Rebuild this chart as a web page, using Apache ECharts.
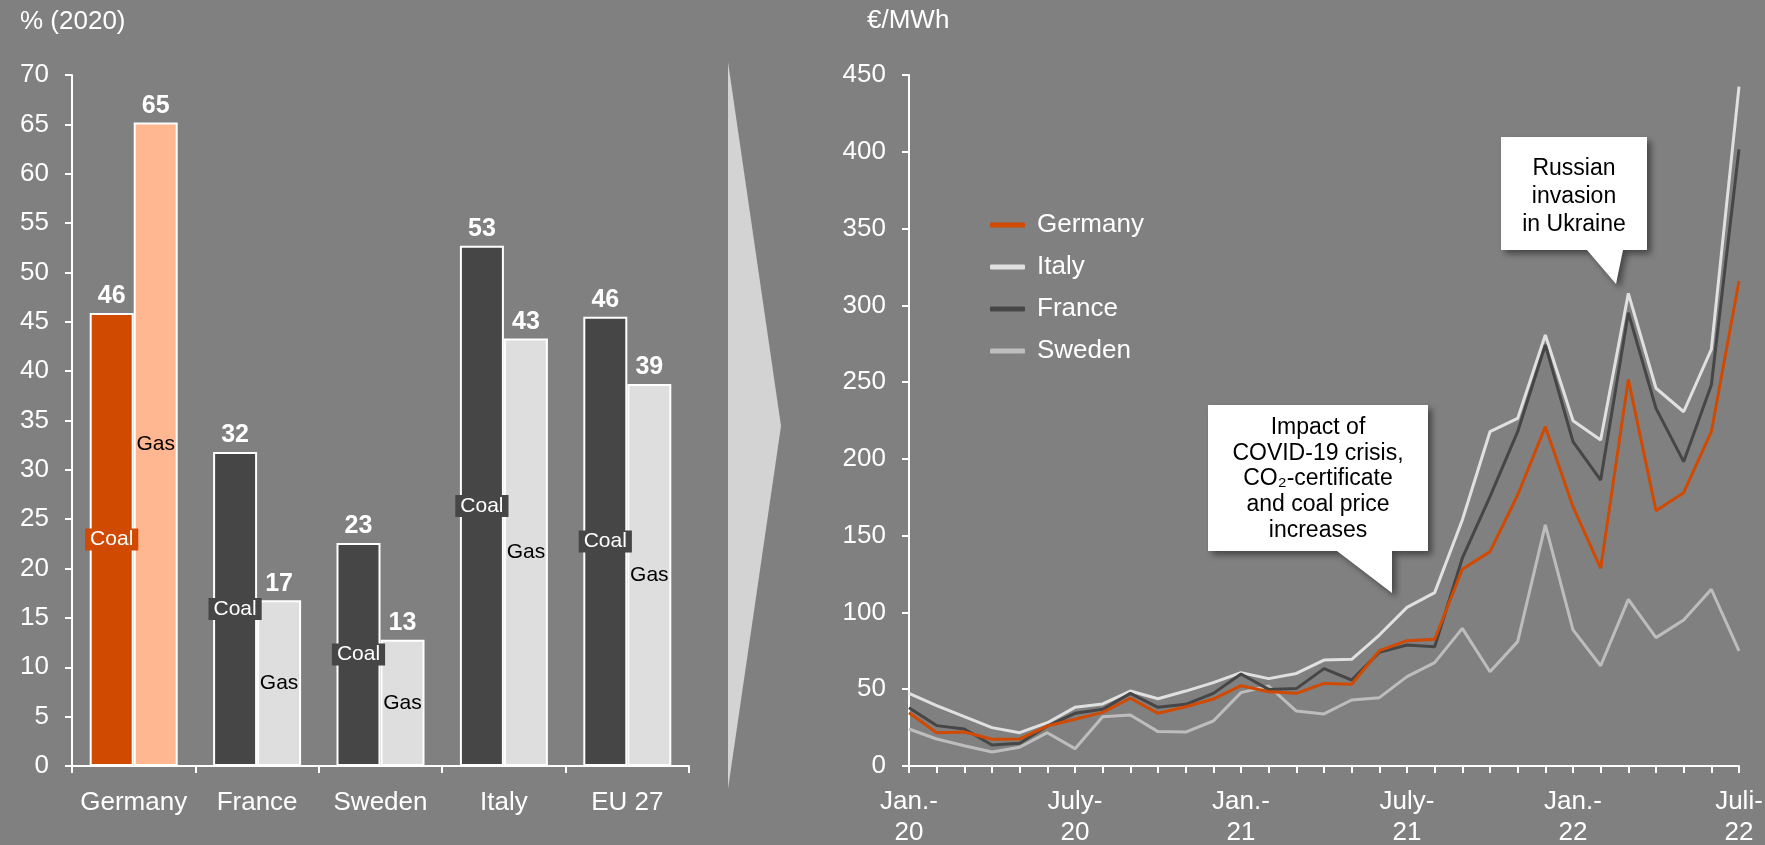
<!DOCTYPE html>
<html><head><meta charset="utf-8">
<script src="https://cdn.jsdelivr.net/npm/echarts@6/dist/echarts.min.js"></script>
<style>html,body{margin:0;padding:0;background:#808080;}#c{width:1765px;height:845px;}</style>
</head><body><div id="c"></div>
<script>
// ---- data ----
const countries = ['Germany', 'France', 'Sweden', 'Italy', 'EU 27'];
const coalShare = [45.9, 31.8, 22.6, 52.7, 45.5];
const gasShare  = [65.2, 16.8, 12.8, 43.3, 38.7];

const months = [
  'Jan.-\n20','Feb.-\n20','Mar.-\n20','Apr.-\n20','May-\n20','June-\n20',
  'July-\n20','Aug.-\n20','Sep.-\n20','Oct.-\n20','Nov.-\n20','Dec.-\n20',
  'Jan.-\n21','Feb.-\n21','Mar.-\n21','Apr.-\n21','May-\n21','June-\n21',
  'July-\n21','Aug.-\n21','Sep.-\n21','Oct.-\n21','Nov.-\n21','Dec.-\n21',
  'Jan.-\n22','Feb.-\n22','Mar.-\n22','Apr.-\n22','May-\n22','June-\n22',
  'Juli-\n22'
];
const germany = [34.7,21.7,22.1,17.4,17.6,26,30.4,34.9,44.1,34.3,38.6,43.6,52.3,48.4,47.3,53.8,53.2,75.1,81.6,82.5,128.1,139.6,176.5,221,168.9,128.7,251.8,166.3,178,217.7,315.8];
const italy   = [47.3,39.3,32.1,25,21.7,28.2,38.2,40.4,48.8,43.8,48.8,54.3,60.8,56.9,60.3,69,69.5,85.3,103.3,112.9,160.2,217.7,226.4,280.7,224.9,212.3,307.8,246,230.7,271.3,442.4];
const france  = [38,26.3,24.1,13.7,14.8,26,34.3,36.9,47.3,38.2,40.2,47.3,59.9,49.9,50.4,63.4,56,74,78.8,77.7,135.3,175.4,217.7,274.2,211.2,186.2,295.2,232.9,198.2,248.1,401.6];
const sweden  = [24.1,17.6,13.2,9.1,12.2,21.7,11.3,32.1,33.2,22.4,22.1,29.3,47.8,52.1,35.8,33.9,43,44.5,58.2,67.3,89.6,61.4,81,157,88.6,65.3,108.5,83.6,95.1,115.1,74.9];

// ---- styles ----
const FONT = "'Liberation Sans', Arial, sans-serif";
const ORANGE = '#D04A02', PEACH = '#FFB791', DARK = '#464646', LIGHT = '#DEDEDE';
const C_IT = '#E0E0E0', C_FR = '#464646', C_SE = '#BDBDBD';

const chart = echarts.init(document.getElementById('c'), null, {renderer: 'canvas'});

const axisWhite = {lineStyle: {color: '#fff', width: 2}};
const tickWhite = {show: true, length: 7, lineStyle: {color: '#fff', width: 2}};
const labelWhite = {color: '#fff', fontSize: 26, fontFamily: FONT};

const coalData = coalShare.map((v, i) => ({
  value: v,
  itemStyle: {color: i === 0 ? ORANGE : DARK},
  label: {backgroundColor: i === 0 ? ORANGE : DARK}
}));
const gasData = gasShare.map((v, i) => ({
  value: v,
  itemStyle: {color: i === 0 ? PEACH : LIGHT}
}));

const topLabel = {
  show: true, position: 'top', distance: 4,
  color: '#fff', fontWeight: 'bold', fontSize: 25, fontFamily: FONT,
  formatter: p => Math.round(p.value)
};

function calloutPoly(pts) {
  return {
    type: 'polygon', shape: {points: pts},
    style: {fill: '#fff', shadowBlur: 6, shadowOffsetX: 4, shadowOffsetY: 4, shadowColor: 'rgba(0,0,0,0.45)'},
    z: 10
  };
}

const option = {
  backgroundColor: '#808080',
  animation: false,
  grid: [
    {left: 72, right: 1765 - 689, top: 75, bottom: 845 - 766, containLabel: false, outerBoundsMode: 'none'},
    {left: 909, right: 1765 - 1739, top: 75, bottom: 845 - 766, containLabel: false, outerBoundsMode: 'none'}
  ],
  legend: {
    data: ['Germany', 'Italy', 'France', 'Sweden'],
    orient: 'vertical', left: 990, top: 212, padding: 0,
    icon: 'roundRect', itemWidth: 35, itemHeight: 5, itemGap: 16,
    textStyle: {color: '#fff', fontSize: 26, fontFamily: FONT, padding: [0, 0, 0, 7]}
  },
  xAxis: [
    {type: 'category', gridIndex: 0, data: countries,
     axisLine: axisWhite, axisTick: tickWhite,
     axisLabel: Object.assign({margin: 24, interval: 0}, labelWhite)},
    {type: 'category', gridIndex: 1, data: months, boundaryGap: false,
     axisLine: axisWhite, axisTick: Object.assign({interval: 0}, tickWhite),
     axisLabel: Object.assign({margin: 20, interval: 5, lineHeight: 31}, labelWhite)},
    {type: 'category', gridIndex: 0, data: countries, show: false}
  ],
  yAxis: [
    {type: 'value', gridIndex: 0, min: 0, max: 70, interval: 5,
     axisLine: Object.assign({show: true}, axisWhite), axisTick: tickWhite,
     splitLine: {show: false}, axisLabel: Object.assign({margin: 23}, labelWhite)},
    {type: 'value', gridIndex: 1, min: 0, max: 450, interval: 50,
     axisLine: Object.assign({show: true}, axisWhite), axisTick: tickWhite,
     splitLine: {show: false}, axisLabel: Object.assign({margin: 23}, labelWhite)}
  ],
  series: [
    {name: 'Coal', type: 'bar', xAxisIndex: 0, yAxisIndex: 0, data: coalData,
     barWidth: 44, barGap: '0%',
     itemStyle: {borderColor: '#fff', borderWidth: 2},
     label: {show: true, position: 'inside', formatter: 'Coal', color: '#fff',
             fontSize: 21, fontFamily: FONT, padding: [1, 5, 0, 5]}},
    {name: 'Gas', type: 'bar', xAxisIndex: 0, yAxisIndex: 0, data: gasData,
     barWidth: 44, barGap: '0%',
     itemStyle: {borderColor: '#fff', borderWidth: 2},
     label: {show: true, position: 'inside', formatter: 'Gas', color: '#000',
             fontSize: 21, fontFamily: FONT}},
    {name: 'CoalTop', type: 'bar', xAxisIndex: 2, yAxisIndex: 0, data: coalShare,
     barWidth: 44, barGap: '0%', silent: true,
     itemStyle: {color: 'rgba(0,0,0,0)'}, label: topLabel},
    {name: 'GasTop', type: 'bar', xAxisIndex: 2, yAxisIndex: 0, data: gasShare,
     barWidth: 44, barGap: '0%', silent: true,
     itemStyle: {color: 'rgba(0,0,0,0)'}, label: topLabel},

    {name: 'Sweden', type: 'line', xAxisIndex: 1, yAxisIndex: 1, data: sweden,
     symbol: 'none', color: C_SE, lineStyle: {width: 3, color: C_SE}},
    {name: 'Italy', type: 'line', xAxisIndex: 1, yAxisIndex: 1, data: italy,
     symbol: 'none', color: C_IT, lineStyle: {width: 3, color: C_IT}},
    {name: 'France', type: 'line', xAxisIndex: 1, yAxisIndex: 1, data: france,
     symbol: 'none', color: C_FR, lineStyle: {width: 3, color: C_FR}},
    {name: 'Germany', type: 'line', xAxisIndex: 1, yAxisIndex: 1, data: germany,
     symbol: 'none', color: ORANGE, lineStyle: {width: 3, color: ORANGE}}
  ],
  graphic: [
    {type: 'text', left: 20, top: 9,
     style: {text: '% (2020)', fill: '#fff', font: '26px ' + FONT}},
    {type: 'text', left: 867, top: 8,
     style: {text: '€/MWh', fill: '#fff', font: '26px ' + FONT}},
    {type: 'polygon', shape: {points: [[728, 62], [781, 426], [728, 789]]},
     style: {fill: '#D3D3D3'}},
    calloutPoly([[1501, 137], [1647, 137], [1647, 250], [1623, 250], [1616, 284], [1587, 250], [1501, 250]]),
    {type: 'text', z: 11,
     style: {text: 'Russian\ninvasion\nin Ukraine', x: 1574, y: 197, align: 'center', verticalAlign: 'middle',
             fill: '#000', font: '23px ' + FONT, lineHeight: 28}},
    calloutPoly([[1208, 405], [1428, 405], [1428, 551], [1392, 551], [1392, 593], [1337, 551], [1208, 551]]),
    {type: 'text', z: 11,
     style: {text: 'Impact of\nCOVID-19 crisis,\nCO\u2082-certificate\nand coal price\nincreases', x: 1318, y: 479,
             align: 'center', verticalAlign: 'middle', fill: '#000', font: '23px ' + FONT, lineHeight: 25.7}}
  ]
};
chart.setOption(option);
</script>
</body></html>
